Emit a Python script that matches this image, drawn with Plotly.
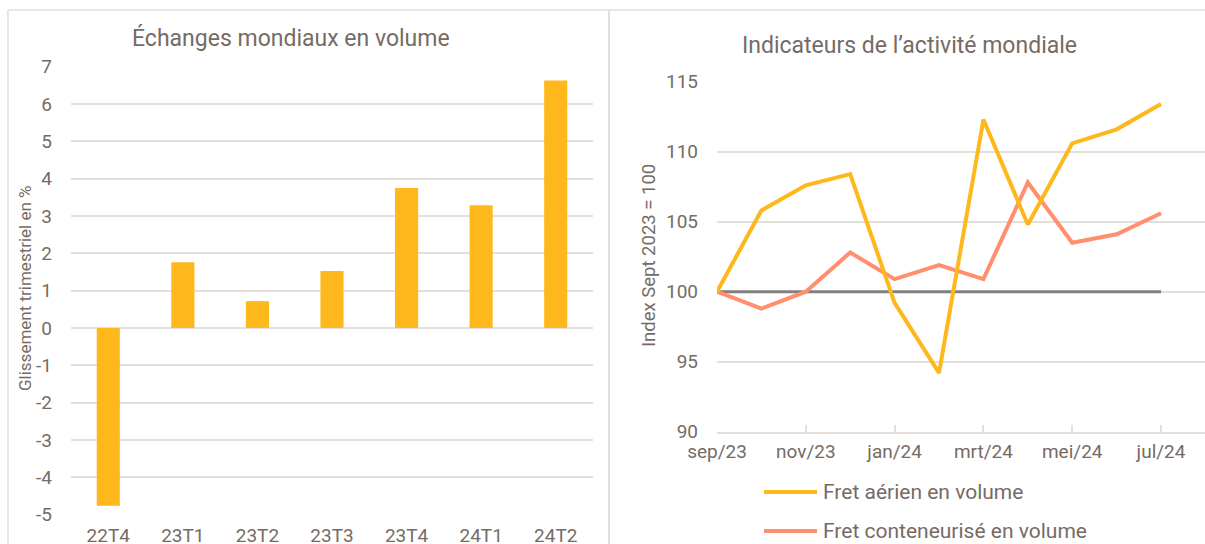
import plotly.graph_objects as go

# ---- data ----
quarters = ["22T4", "23T1", "23T2", "23T3", "23T4", "24T1", "24T2"]
trade_growth = [-4.76, 1.76, 0.72, 1.53, 3.75, 3.29, 6.63]
growth_ticks = [-5, -4, -3, -2, -1, 0, 1, 2, 3, 4, 5, 6, 7]
growth_tick_text = ["-5", "-4", "-3", "-2", "-1", "0", "1", "2", "3", "4", "5", "6", "7"]

months = ["sep/23", "okt/23", "nov/23", "dec/23", "jan/24", "feb/24",
          "mrt/24", "apr/24", "mei/24", "jun/24", "jul/24"]
air_freight = [100.0, 105.8, 107.6, 108.4, 99.2, 94.2, 112.3, 104.8, 110.6, 111.6, 113.4]
container_freight = [100.0, 98.8, 100.0, 102.8, 100.9, 101.9, 100.9, 107.8, 103.5, 104.1, 105.6]
baseline = [100, 100, 100, 100, 100, 100, 100, 100, 100, 100, 100]
month_ticks = ["sep/23", "nov/23", "jan/24", "mrt/24", "mei/24", "jul/24"]

left_title = "Échanges mondiaux en volume"
right_title = "Indicateurs de l’activité mondiale"
left_ytitle = "Glissement trimestriel en %"
right_ytitle = "Index Sept 2023 = 100"
air_name = "Fret aérien en volume"
container_name = "Fret conteneurisé en volume"

# ---- style ----
W, H = 1205, 544
FONT = "Roboto, Liberation Sans, sans-serif"
TXT = "#766B64"
GRID = "#E3DFDB"
BORDER = "#E2DEDA"
YEL = "#FFB81C"
SAL = "#FF8F6E"
GRAY = "#808080"


def px(x):
    return x / W


def py(y):
    return 1 - y / H


fig = go.Figure()

fig.add_trace(go.Bar(x=quarters, y=trade_growth, marker=dict(color=YEL, line=dict(width=0)),
                     xaxis="x", yaxis="y", name=left_title, showlegend=False))

fig.add_trace(go.Scatter(x=months, y=baseline, mode="lines", line=dict(color=GRAY, width=3),
                         xaxis="x2", yaxis="y2", showlegend=False, hoverinfo="skip"))
fig.add_trace(go.Scatter(x=months, y=container_freight, mode="lines", name=container_name,
                         line=dict(color=SAL, width=4), xaxis="x2", yaxis="y2", showlegend=False))
fig.add_trace(go.Scatter(x=months, y=air_freight, mode="lines", name=air_name,
                         line=dict(color=YEL, width=4), xaxis="x2", yaxis="y2", showlegend=False))

tickfont = dict(family=FONT, size=19, color=TXT)

fig.update_layout(
    template="none",
    width=W, height=H,
    margin=dict(l=0, r=0, t=0, b=0, autoexpand=False),
    paper_bgcolor="white", plot_bgcolor="rgba(0,0,0,0)",
    bargap=0.69,
    font=dict(family=FONT, color=TXT),
    xaxis=dict(domain=[px(71), px(593)], type="category", showgrid=False, showline=False,
               ticks="", tickfont=tickfont, ticklabelstandoff=7, anchor="y",
               automargin=False),
    yaxis=dict(domain=[py(514.7), py(66.7)], range=[-5, 7], tickmode="array",
               tickvals=growth_ticks, ticktext=growth_tick_text, showgrid=True,
               gridcolor=GRID, gridwidth=2, zeroline=False, showline=False, ticks="",
               tickfont=tickfont, ticklabelstandoff=18, anchor="x", automargin=False),
    xaxis2=dict(domain=[px(717), 1.0], type="category", range=[0, 10.99],
                categoryorder="array", categoryarray=months,
                tickmode="array", tickvals=month_ticks, ticktext=month_ticks,
                showgrid=False, showline=True, linecolor=GRID, linewidth=2,
                ticks="inside", ticklen=7, tickwidth=2, tickcolor=GRID,
                tickfont=tickfont, ticklabelstandoff=1, anchor="y2", automargin=False),
    yaxis2=dict(domain=[py(431.7), py(81.7)], range=[90, 115], dtick=5, showgrid=True,
                gridcolor=GRID, gridwidth=2, zeroline=False, showline=False, ticks="",
                tickfont=tickfont, ticklabelstandoff=18, anchor="x2", automargin=False),
)

shapes = [
    dict(type="line", xref="paper", yref="paper", x0=px(8), x1=1, y0=py(10), y1=py(10),
         line=dict(color=BORDER, width=1.5)),
    dict(type="line", xref="paper", yref="paper", x0=px(8), x1=px(8), y0=py(10), y1=0,
         line=dict(color=BORDER, width=1.5)),
    dict(type="line", xref="paper", yref="paper", x0=px(609), x1=px(609), y0=py(10), y1=0,
         line=dict(color=BORDER, width=2)),
    # legend samples
    dict(type="line", xref="paper", yref="paper", x0=px(764), x1=px(817), y0=py(492), y1=py(492),
         line=dict(color=YEL, width=4)),
    dict(type="line", xref="paper", yref="paper", x0=px(764), x1=px(817), y0=py(531), y1=py(531),
         line=dict(color=SAL, width=4)),
]

ann = [
    dict(text=left_title, x=px(291), y=py(38), font=dict(size=23)),
    dict(text=right_title, x=px(909), y=py(45), font=dict(size=23)),
    dict(text=left_ytitle, x=px(25), y=py(288), textangle=-90, font=dict(size=17)),
    dict(text=right_ytitle, x=px(649), y=py(256), textangle=-90, font=dict(size=18.5)),
    dict(text=air_name, x=px(821), y=py(492), xanchor="left", font=dict(size=21)),
    dict(text=container_name, x=px(821), y=py(531), xanchor="left", font=dict(size=21)),
]
for a in ann:
    a.setdefault("xanchor", "center")
    a.update(xref="paper", yref="paper", yanchor="middle", showarrow=False)
    a["font"] = dict(family=FONT, color=TXT, **a["font"])

fig.update_layout(shapes=shapes, annotations=ann)

fig.write_html(
    "out.html",
    config=dict(displayModeBar=False),
    post_script="document.body.style.margin='0';document.body.style.overflow='hidden';"
                "document.documentElement.style.overflow='hidden';",
)
